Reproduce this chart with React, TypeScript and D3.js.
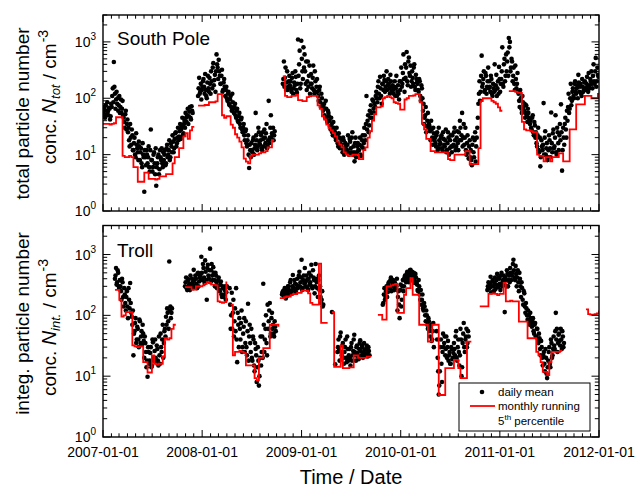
import React from 'react';
import * as d3 from 'd3';

// daily means: two interleaved series per stretch (a: start day, b: start + 2 days),
// each one value every 4 days; the monthly running 5th percentile one value every 8 days
const DAILY_STEP = 4;
const P5_STEP = 8;

// ---- South Pole ----
const spDaily2007 = [55, 70, 45, 60, 85, 50, 65, 48, 70, 150, 440, 120, 95, 80, 60, 110, 70, 55, 90,
  45, 30, 60, 35, 25, 18, 35, 15, 22, 12, 20, 9, 15, 11, 17, 8, 13, 6, 10, 2.2, 9, 12,
  7, 14, 5, 28, 8, 6, 11, 4.5, 2.8, 7, 10, 5.5, 9, 13, 6, 8, 12, 7, 15, 10, 18, 9,
  14, 22, 11, 19, 25, 16, 30, 21, 35, 28, 45, 24, 40, 55, 38, 65, 48, 70, 42, 60];
const spDaily2007b = [48, 62, 75, 52, 58, 68, 42, 80, 110, 85, 160, 65, 130, 100, 75, 55, 95, 65, 50,
  38, 52, 28, 42, 30, 14, 20, 28, 12, 16, 10, 24, 13, 8, 14, 11, 7, 16, 9, 12, 6.5, 10,
  9, 6, 12, 8, 5, 10, 7, 13, 6, 9, 4.5, 12, 8, 7, 11, 10, 6.5, 13, 9, 12, 8, 16,
  11, 17, 13, 24, 14, 20, 18, 26, 19, 32, 22, 35, 30, 45, 50, 35, 58, 45, 72, 55];
const spDaily2008 = [110, 230, 130, 95, 160, 220, 120, 140, 100, 250, 130, 180, 300, 150, 420, 210, 130,
  600, 350, 480, 250, 180, 320, 140, 220, 110, 160, 90, 130, 75, 110, 60, 85, 55, 80, 45, 65,
  38, 55, 30, 45, 25, 35, 18, 28, 14, 22, 5.8, 12, 16, 11, 20, 13, 55, 18, 14, 25,
  15, 22, 12, 19, 28, 16, 35, 14, 90, 20, 50, 24, 30, 22];
const spDaily2008b = [150, 120, 180, 140, 200, 160, 270, 110, 190, 150, 230, 120, 200, 350, 170, 260, 300,
  400, 220, 300, 180, 250, 130, 190, 160, 140, 100, 120, 80, 95, 70, 120, 65, 70, 50, 60, 40,
  48, 35, 42, 28, 30, 22, 26, 16, 18, 10, 15, 9, 12, 18, 10, 15, 22, 12, 30, 16,
  18, 13, 25, 14, 20, 24, 13, 18, 16, 30, 19, 22, 18, 26];
const spDaily2009to2011 = [180, 450, 230, 140, 300, 160, 250, 200, 130, 280, 150, 170, 240, 125,
  1100, 400, 150, 1050, 300, 800, 600, 180, 140, 450, 250, 120, 270, 150, 380, 120, 200, 160,
  130, 90, 160, 70, 100, 60, 80, 45, 65, 38, 55, 40, 28, 35, 22, 30, 25, 18, 22, 14, 20, 16,
  15, 11, 18, 12, 14, 12, 22, 10, 17, 11, 25, 14, 7.6, 20, 11, 16, 12, 20, 9.5, 18, 13,
  30, 18, 110, 40, 25, 60, 75, 45, 90, 55, 70, 130, 85, 200, 100, 150, 80,
  180, 250, 130, 200, 140, 220, 150, 260, 130, 170, 120, 200, 150, 110, 170, 95,
  140, 350, 180, 600, 130, 230, 660, 170, 530, 250, 160, 300, 180, 400, 140, 220,
  180, 130, 200, 90, 150, 60, 35, 50, 25, 40, 30, 32, 18, 28, 15, 24, 20, 14, 25, 13, 18,
  16, 22, 12, 19, 14, 28, 12, 25, 10, 18, 14, 22, 15, 30, 12, 20, 16, 25, 40, 18, 55, 20,
  15, 30, 10, 22, 8.5, 18, 12, 6.5, 20, 9, 25, 14, 30, 80, 200, 130, 570,
  180, 300, 140, 250, 160, 350, 200, 130, 220, 110, 150, 400, 170, 110, 200, 360, 130,
  220, 800, 160, 500, 250, 300, 650, 1170, 1000, 350, 450, 250, 180, 380, 150, 280,
  120, 70, 100, 55, 85, 60, 45, 75, 38, 55, 42, 40, 28, 50, 22, 33, 25, 14, 30, 11, 6.2, 18,
  12, 82, 20, 10, 16, 9, 22, 13, 56, 11, 28, 14, 50, 10, 25, 12, 35, 78, 5.2, 30, 15, 45, 20,
  40, 120, 65, 180, 90, 150, 100, 200, 120, 170, 260, 130, 180, 110, 160, 140,
  200, 140, 240, 130, 170, 220, 300, 150, 400, 180, 520, 200, 260];
const spDaily2009to2011b = [220, 160, 350, 190, 140, 200, 170, 150, 230, 120, 190, 300, 140, 180,
  250, 700, 180, 500, 220, 350, 300, 450, 200, 160, 380, 180, 180, 230, 140, 300, 130, 220,
  110, 140, 85, 120, 75, 70, 50, 90, 42, 60, 48, 32, 45, 25, 38, 26, 20, 30, 16, 24, 13, 19,
  13, 20, 10, 16, 11, 15, 11, 19, 13, 20, 10, 11, 16, 9, 14, 12, 15, 10, 14, 22, 16,
  22, 35, 28, 50, 33, 45, 55, 95, 65, 80, 110, 100, 160, 120, 240, 110, 180,
  140, 210, 160, 300, 170, 180, 120, 200, 160, 140, 160, 110, 250, 130, 120, 200,
  200, 160, 280, 220, 400, 350, 200, 450, 280, 380, 200, 230, 350, 160, 260, 190,
  140, 220, 110, 170, 100, 80, 45, 70, 32, 55, 35, 26, 40, 20, 30, 18, 16, 22, 12, 30, 15,
  20, 13, 25, 15, 18, 11, 16, 20, 13, 22, 11, 14, 25, 18, 14, 26, 12, 18, 30, 22, 14, 35,
  20, 12, 16, 11, 14, 9, 8, 15, 11, 18, 7.5, 20, 45, 120, 90, 250, 160,
  220, 130, 280, 120, 200, 150, 160, 250, 120, 180, 130, 140, 260, 150, 120, 220, 180,
  300, 180, 400, 200, 600, 450, 250, 800, 300, 500, 200, 350, 140, 220, 180, 130,
  90, 140, 65, 110, 70, 80, 55, 50, 65, 45, 35, 30, 45, 25, 38, 20, 16, 22, 12, 20, 9, 14,
  15, 10, 26, 13, 8, 12, 18, 9, 16, 24, 13, 20, 11, 30, 16, 22, 18, 25, 12, 20, 35, 28, 60,
  70, 55, 100, 75, 130, 110, 180, 130, 150, 100, 190, 160, 120, 220, 130, 190,
  150, 180, 160, 280, 150, 200, 180, 250, 200, 300, 160, 350, 240];
const spP5_2007 = [35, 35, 35, 34, 35, 36, 46, 46, 46, 9.5, 9, 9, 9.5, 9, 6, 6, 3.3, 3.3, 3.3, 4.8, 4.8,
  3.7, 3.7, 3.7, 3.6, 3.7, 4.1, 4.1, 4.1, 4.5, 4.5, 4.5, 7, 9, 9, 13, 13, 21, 24, 19, 27, 31, 31];
const spP5_2008 = [74, 74, 74, 76, 76, 85, 85, 85, 88, 118, 118, 50, 45, 48, 48, 34, 30, 23, 20, 17, 13.5,
  8.5, 7.5, 7, 9.5, 10, 10, 10, 10.5, 11, 11, 11.5, 13.5, 13.5, 18, 18];
const spP5_2009to2011 = [245, 110, 105, 105, 110, 110, 115, 93, 93, 89,
  89, 105, 108, 110, 110, 110, 75, 65, 48, 42,
  34, 30, 27, 24, 21, 17, 15, 13.5, 11, 10,
  9.5, 9.5, 10, 10, 10, 8.3, 8.3, 12, 13.5, 20,
  26, 40, 52, 69, 69, 72, 100, 105, 110, 105,
  100, 85, 82, 80, 63, 63, 95, 100, 110, 110,
  112, 118, 118, 85, 35, 28, 19, 19, 11.5, 11.5,
  11, 11, 11, 11, 11, 11, 8.3, 8, 8, 10,
  10, 10, 10, 10, 11.5, 11.5, 6.8, 6.8, 6.8, 6.8,
  13, 89, 100, 100, 100, 100, 90, 85, 80, 69,
  60, 60, null, null, 134, 134, 134, 130, 125, 125,
  38, 28, 27, 27, 26, 25, 25, 10, 9.5, 9.5,
  7.6, 9, 9, 7.6, 9, 9, 9, 10.5, 10.5, 7.6,
  7.6, 7.6, 28, 28, 28, 78, 78, 78, 78, 110,
  110, 110, 100, 100, 100, 120, 120];

// ---- Troll ----
const trDaily2007 = [400, 600, 350, 500, 280, 300, 180, 350, 140, 220, 120, 250, 90, 180, 340, 110,
  70, 22, 55, 90, 40, 60, 30, 80, 45, 33, 50, 20, 35, 14, 9.8, 25, 18, 30, 15, 36, 20,
  40, 17, 28, 15, 22, 50, 25, 70, 35, 60, 95, 130, 80, 770, 140, 110];
const trDaily2007b = [450, 320, 550, 300, 380, 250, 400, 200, 280, 160, 200, 140, 280, 130, 160, 95,
  120, 50, 75, 35, 65, 40, 85, 35, 55, 70, 38, 45, 25, 18, 30, 16, 24, 14, 40, 18, 26,
  20, 32, 18, 45, 16, 30, 40, 20, 55, 45, 70, 110, 60, 120, 90, 130];
const trDaily2008 = [300, 420, 260, 380, 330, 450, 290, 350, 560, 310, 400, 280, 500, 360, 450,
  920, 380, 600, 340, 520, 180, 680, 400, 1250, 550, 450, 620, 380, 500, 350,
  300, 420, 250, 360, 200, 280, 220, 300, 240, null, null,
  280, 60, 235, 110, 45, 130, 280, 17, 70, 90, 40, 120, 30, 65, 25, 80, 22, 155, 45, 35,
  60, 18, 40, 12, 28, 8, 30, 7, 20, 15, 45, 330, 25, 60, 35, 150, 80, 160, 50, 110, 70, 45, 65];
const trDaily2008b = [350, 280, 400, 310, 260, 320, 400, 280, 380, 450, 330, 480, 300, 420, 380,
  500, 700, 420, 800, 380, 600, 450, 550, 350, 700, 380, 500, 300, 450, 280,
  380, 260, 320, 220, 300, 200, 260, 180, 300, null, null,
  150, 100, 60, 180, 80, 55, 40, 110, 30, 60, 75, 25, 50, 90, 35, 30, 55, 18, 70, 25,
  20, 45, 15, 35, 22, 14, 18, 10, 45, 25, 20, 70, 40, 100, 22, 60, 120, 45, 90, 60, 50, 80, 55];
const trDaily2009 = [null, null, 220, 250, 200, 230, 260, 210, 300, 220, 380, 250, 460,
  280, 330, 240, 400, 300, 520, 350, 820, 280, 450, 600, 300, 380, 260, 500,
  350, 680, 280, 420, 230, 700, 350, 200, 450, 300, 160, 250, 150,
  null, null, null, null, null, null, null, 113, null, null, 15.7, null, 25,
  40, 18, 52, 22, 35, 16, 30, 20, 45, 18, 28, 15, 35, 22, 40, 25, 18, 32, 21, 28,
  39, 22, 30, 24, 27, 23, 32, 21, 26];
const trDaily2009b = [null, null, 240, 210, 280, 190, 240, 300, 260, 350, 230, 300, 280,
  380, 250, 320, 280, 450, 300, 420, 260, 380, 330, 350, 450, 280, 400, 320,
  450, 300, 550, 380, 300, 400, 280, 380, 260, 200, 180, 140, null,
  null, null, null, null, null, null, null, null, null, null, null, null, 30,
  28, 45, 25, 32, 20, 25, 40, 17, 28, 22, 20, 30, 18, 26, 48, 22, 30, 24, 19, 35,
  26, 32, 20, 35, 22, 28, 24, 30, 22];
const trDaily2010 = [null, null, null, null, null, 160, 280, 200, 300, 240, 350, 280, 420, 300, 380,
  260, 330, 300, 120, 250, 90, 320, 180, 380, 300, 450, 350, 520, 400, 480,
  560, 380, 450, 500, 340, 420, 320, 250, 300, 180, 150, 220, 120, 140, 80,
  100, 60, 80, 45, 70, 40, 75, null, null, 55, 20, 5, 12, 40, 8, 50, 35, 22, 45, 30,
  18, 25, 16, 28, 20, 35, 22, 55, 18, 40, 15, 60, 10, 35, 75, 25, 45, 30, 55];
const trDaily2010b = [null, null, null, null, 150, 220, 180, 250, 200, 320, 280, 380, 250, 340, 300,
  350, 280, 400, 200, 150, 260, 140, 300, 250, 420, 380, 480, 420, 350, 550,
  450, 520, 400, 380, 480, 350, 260, 380, 220, 260, 180, 130, 160, 100, 120,
  70, 90, 55, 65, 38, 55, 30, null, null, 40, 12, 7, 30, 16, 25, 30, 45, 28, 20, 38,
  22, 16, 30, 19, 24, 28, 45, 20, 30, 25, 22, 40, 14, 50, 30, 40, 60, 35, 45];
const trDaily2011 = [null, null, null, null, null, null, null, 260, 350, 280, 430, 300, 380,
  250, 420, 320, 480, 300, 400, 260, 500, 350, 450, 113, 380, 550, 300, 450,
  600, 380, 500, 820, 420, 650, 300, 550, 250, 400, 200, 280, 150, 230, 110,
  130, 85, 100, 70, 90, 65, 90, 50, 75, 45, 60, 35, 42, 22, 30, 15, 25, 12, 20, 9.3,
  18, 30, 14, 35, 22, 45, 28, 110, 60, 35, 50, 32, 40, 55, 30];
const trDaily2011b = [null, null, null, null, null, null, null, 300, 280, 330, 240, 360, 300,
  340, 270, 380, 290, 420, 330, 450, 300, 380, 320, 420, 300, 480, 380, 350,
  500, 450, 700, 550, 380, 480, 420, 350, 500, 300, 350, 180, 250, 140, 160,
  100, 120, 80, 110, 75, 80, 55, 70, 45, 60, 40, 50, 28, 38, 20, 22, 16, 28, 11, 14,
  25, 16, 40, 20, 28, 32, 55, 40, 25, 48, 38, 60, 28, 45, 35];
const trP5_2007 = [263, 263, 180, 95, 100, 113, 113, 113, 32, 31, 30, 31, 31, 17, 17, 11.5, 11.5,
  22, 16, 15.5, 16, 16, 21, 42, 40, 42, 60, 70, 70];
const trP5_2008 = [290, 290, 290, 265, 265, 300, 300, 300, 310, 330, 350, 340, 320, 320, 310, 170, 165,
  160, 165, 360, null, 150, 22, 25, 25, 26, 25, 24, 15, 15, 15, 15, 9.3, 8.5, 20, 20, 29, 29, 29,
  70, 70, 70, 70, 65];
const trP5_2009 = [192, 192, 200, 204, 204, 215, 224, 224, 235, 235, 255, 255, 255, 230, 160, 150, 150,
  150, 710, 75, 75, 75, 75, null, 113, 14.3, 14.3, 14.3, 32, 13.6, 13.6, 13.6, 14, 14, 22, 22,
  20, 20, 20, 20, 21, 21, 21];
const trP5_2010 = [102, 102, 85, 85, 300, 300, 310, 320, 330, 110, 110, 110, 218, 280, 280, 410, 218,
  218, 218, 70, 70, 70, 70, 37, 37, 70, 70, 70, 4.9, 4.9, 4.9, 13.6, 13.6, 13.6, 13.6, 18.5, 18.5,
  13.6, 9.3, 9.3, 9.3, 37, 37, 37];
const trP5_2011 = [140, 140, 140, 140, 225, 225, 230, 225, 215, 225, 225, 340, 170, 170, 175, 170, 170,
  170, 79, 79, 79, 79, 42, 42, 42, 42, 25, 22, 17, 11.8, 11.8, 10.4, 17, 25, 25, 25, 25, 26, 26];
const trP5_2012 = [125, 105, 103, 103, 105, 108, 120];

const years = ['2007-01-01', '2008-01-01', '2009-01-01', '2010-01-01', '2011-01-01', '2012-01-01'];

type Pt = { date: Date; v: number | null };
const parse = d3.utcParse('%Y-%m-%d');
const DAY = 86400000;
const expand = (start: string, step: number, values: (number | null)[]): Pt[] => {
  const t0 = parse(start)!.getTime();
  return values.map((v, i) => ({ date: new Date(t0 + i * step * DAY), v }));
};

const spDaily = [
  expand('2007-01-01', DAILY_STEP, spDaily2007),
  expand('2007-01-03', DAILY_STEP, spDaily2007b),
  expand('2007-12-17', DAILY_STEP, spDaily2008),
  expand('2007-12-19', DAILY_STEP, spDaily2008b),
  expand('2008-10-24', DAILY_STEP, spDaily2009to2011),
  expand('2008-10-26', DAILY_STEP, spDaily2009to2011b),
].flat();
const spP5 = [
  expand('2007-01-01', P5_STEP, spP5_2007),
  expand('2007-12-17', P5_STEP, spP5_2008),
  expand('2008-10-24', P5_STEP, spP5_2009to2011),
];
const trDaily = [
  expand('2007-02-14', DAILY_STEP, trDaily2007),
  expand('2007-02-16', DAILY_STEP, trDaily2007b),
  expand('2007-10-30', DAILY_STEP, trDaily2008),
  expand('2007-11-01', DAILY_STEP, trDaily2008b),
  expand('2008-10-13', DAILY_STEP, trDaily2009),
  expand('2008-10-15', DAILY_STEP, trDaily2009b),
  expand('2009-10-09', DAILY_STEP, trDaily2010),
  expand('2009-10-11', DAILY_STEP, trDaily2010b),
  expand('2010-10-19', DAILY_STEP, trDaily2011),
  expand('2010-10-21', DAILY_STEP, trDaily2011b),
].flat();
const trP5 = [
  expand('2007-02-14', P5_STEP, trP5_2007),
  expand('2007-10-30', P5_STEP, trP5_2008),
  expand('2008-10-13', P5_STEP, trP5_2009),
  expand('2009-10-09', P5_STEP, trP5_2010),
  expand('2010-10-19', P5_STEP, trP5_2011),
  expand('2011-11-14', P5_STEP, trP5_2012),
];

const FONT = "'Liberation Sans', Arial, Helvetica, sans-serif";
const x = d3.scaleUtc().domain([parse(years[0])!, parse(years[years.length - 1])!]).range([103, 599]);
const monthTicks = d3.utcMonth.range(parse(years[0])!, d3.utcDay.offset(parse(years[years.length - 1])!, 1));

type PanelProps = {
  id: string; top: number; bottom: number; daily: Pt[]; p5: Pt[][];
  name: string; nameY: number; showDates?: boolean;
};

function Panel({ id, top, bottom, daily, p5, name, nameY, showDates }: PanelProps) {
  const y = d3.scaleLog().domain([1, 3000]).range([bottom, top]);
  const line = d3.line<Pt>()
    .defined(d => d.v != null)
    .x(d => x(d.date))
    .y(d => y(d.v as number))
    .curve(d3.curveStepAfter);
  const [left, right] = x.range();
  const yTicks = y.ticks();
  const isMajor = (v: number) => Math.abs(Math.log10(v) - Math.round(Math.log10(v))) < 1e-9;
  return (
    <g>
      <defs>
        <clipPath id={id}>
          <rect x={left} y={top} width={right - left} height={bottom - top} />
        </clipPath>
      </defs>
      <g clipPath={`url(#${id})`}>
        {daily.filter(d => d.v != null).map((d, i) => (
          <circle key={i} cx={x(d.date)} cy={y(d.v as number)} r={2.3} fill="#000" />
        ))}
        {p5.map((seg, i) => (
          <path key={i} d={line(seg) || ''} fill="none" stroke="#ff0000" strokeWidth={1.8} />
        ))}
      </g>
      {/* x ticks, mirrored top and bottom, pointing inward */}
      {monthTicks.map((m, i) => {
        const major = m.getUTCMonth() === 0;
        const len = major ? 7 : 3.7;
        const xx = x(m);
        return (
          <g key={i} stroke="#000" strokeWidth={1}>
            <line x1={xx} x2={xx} y1={bottom} y2={bottom - len} />
            <line x1={xx} x2={xx} y1={top} y2={top + len} />
          </g>
        );
      })}
      {yTicks.map((t, i) => {
        const len = isMajor(t) ? 7.5 : 4.2;
        const yy = y(t);
        return (
          <g key={i} stroke="#000" strokeWidth={1}>
            <line x1={left} x2={left + len} y1={yy} y2={yy} />
            <line x1={right} x2={right - len} y1={yy} y2={yy} />
          </g>
        );
      })}
      {yTicks.filter(isMajor).map((t, i) => (
        <text key={i} x={96} y={y(t) + 5} textAnchor="end" fontFamily={FONT} fontSize={14} fill="#000">
          10<tspan fontSize={10} dy={-7}>{Math.round(Math.log10(t))}</tspan>
        </text>
      ))}
      <rect x={left} y={top} width={right - left} height={bottom - top} fill="none" stroke="#000" strokeWidth={1.4} />
      <text x={117} y={nameY} fontFamily={FONT} fontSize={19} fill="#000">{name}</text>
      {showDates && years.map((yr, i) => (
        <text key={i} x={x(parse(yr)!)} y={457} textAnchor="middle" fontFamily={FONT} fontSize={14} fill="#000">{yr}</text>
      ))}
    </g>
  );
}

export default function App() {
  return (
    <svg width={636} height={489} style={{ position: 'absolute', left: 0, top: 0, background: '#fff' }}>
      <Panel id="clip-sp" top={15} bottom={211} daily={spDaily} p5={spP5} name="South Pole" nameY={45} />
      <Panel id="clip-tr" top={225.5} bottom={437} daily={trDaily} p5={trP5} name="Troll" nameY={257} showDates />

      {/* y axis titles */}
      <text transform="translate(29,113.5) rotate(-90)" textAnchor="middle" fontFamily={FONT} fontSize={19}>total particle number</text>
      <text transform="translate(56,97) rotate(-90)" textAnchor="middle" fontFamily={FONT} fontSize={19}>
        conc. <tspan fontStyle="italic" fontSize={20}>N</tspan>
        <tspan fontStyle="italic" fontSize={13} dy={4}>tot</tspan>
        <tspan dy={-4}> / cm</tspan>
        <tspan fontSize={14} dy={-8} dx={1}>-3</tspan>
      </text>
      <text transform="translate(29,323.5) rotate(-90)" textAnchor="middle" fontFamily={FONT} fontSize={19}>integ. particle number</text>
      <text transform="translate(56,327.5) rotate(-90)" textAnchor="middle" fontFamily={FONT} fontSize={19}>
        conc. <tspan fontStyle="italic" fontSize={20}>N</tspan>
        <tspan fontStyle="italic" fontSize={13} dy={4}>int.</tspan>
        <tspan dy={-4}> / cm</tspan>
        <tspan fontSize={14} dy={-8} dx={1}>-3</tspan>
      </text>

      <text x={351} y={484} textAnchor="middle" fontFamily={FONT} fontSize={20}>Time / Date</text>

      {/* legend */}
      <g fontFamily={FONT} fontSize={11.5}>
        <rect x={459} y={383} width={131} height={48} fill="#fff" stroke="#000" strokeWidth={1} />
        <circle cx={482} cy={392} r={2.3} fill="#000" />
        <text x={498} y={396}>daily mean</text>
        <line x1={470} x2={495} y1={406} y2={406} stroke="#ff0000" strokeWidth={1.8} />
        <text x={498} y={410}>monthly running</text>
        <text x={498} y={425}>5<tspan fontSize={8} dy={-5}>th</tspan><tspan dy={5}> percentile</tspan></text>
      </g>
    </svg>
  );
}
